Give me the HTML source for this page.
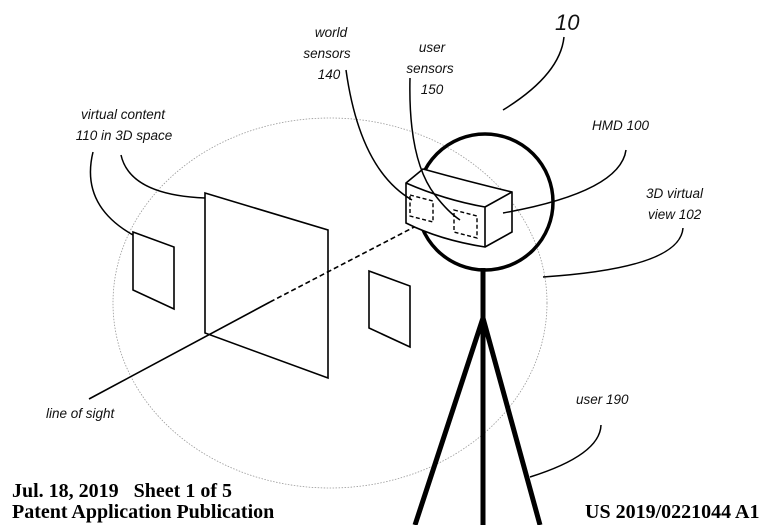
<!DOCTYPE html>
<html><head><style>
html,body{margin:0;padding:0;background:#fff;}
svg{display:block;}
.l{font-family:"Liberation Sans",sans-serif;font-style:italic;font-size:13.5px;fill:#111;}
.f{font-family:"Liberation Serif",serif;font-weight:bold;font-size:20px;fill:#000;white-space:pre;}
</style></head><body>
<svg width="768" height="525" viewBox="0 0 768 525" xmlns="http://www.w3.org/2000/svg">
<ellipse cx="330" cy="303" rx="217" ry="185" fill="none" stroke="#999" stroke-width="0.8" stroke-dasharray="1.5,1.5"/>
<g fill="none" stroke="#000" stroke-width="1.6">
<polygon points="133,232 174,247 174,309 133,290"/>
<polygon points="369,271 410,286 410,347 369,328"/>
<polygon points="205,193 328,230 328,378 205,333"/>
<line x1="89" y1="399" x2="270" y2="302"/>
<line x1="270" y1="302" x2="418" y2="225" stroke-dasharray="5,3"/>
</g>
<circle cx="485" cy="202" r="68" fill="none" stroke="#000" stroke-width="3.5"/>
<g stroke="#000" fill="none" stroke-width="5">
<line x1="483" y1="268" x2="483" y2="525"/>
<line x1="483" y1="318" x2="415" y2="525"/>
<line x1="483" y1="318" x2="540" y2="525"/>
</g>
<g fill="#fff" stroke="#000" stroke-width="1.6">
<path d="M406,183 L423,169 Q470,182 512,192 L512,232 L485,247 Q440,240 406,223 Z"/>
<path d="M406,183 Q445,200 485,207 L512,192 M485,207 L485,247" fill="none"/>
</g>
<g fill="none" stroke="#000" stroke-width="1.4" stroke-dasharray="4,2.5">
<polygon points="410,195 433,201 433,222 410,216"/>
<polygon points="454,210 477,216 477,238 454,232"/>
</g>
<g fill="none" stroke="#000" stroke-width="1.5">
<path d="M564,37 Q560,75 503,110"/>
<path d="M626,150 Q620,192 503,213"/>
<path d="M683,228 Q680,268 543,277"/>
<path d="M601,425 Q600,455 530,477"/>
<path d="M346,70 Q360,170 412,200"/>
<path d="M410,78 Q408,160 435,195 Q448,212 460,220"/>
<path d="M93,152 Q80,205 133,235"/>
<path d="M121,155 Q130,195 205,198"/>
</g>
<text class="l" x="331" y="37" text-anchor="middle">world</text>
<text class="l" x="327" y="58" text-anchor="middle">sensors</text>
<text class="l" x="329" y="79" text-anchor="middle">140</text>
<text class="l" x="432" y="52" text-anchor="middle">user</text>
<text class="l" x="430" y="73" text-anchor="middle">sensors</text>
<text class="l" x="432" y="94" text-anchor="middle">150</text>
<text class="l" x="123" y="119" text-anchor="middle">virtual content</text>
<text class="l" x="124" y="140" text-anchor="middle">110 in 3D space</text>
<text class="l" x="555" y="30" style="font-size:22px">10</text>
<text class="l" x="592" y="130">HMD 100</text>
<text class="l" x="646" y="198">3D virtual</text>
<text class="l" x="648" y="219">view 102</text>
<text class="l" x="576" y="404">user 190</text>
<text class="l" x="46" y="418">line of sight</text>
<text class="f" x="12" y="497" xml:space="preserve">Jul. 18, 2019   Sheet 1 of 5</text>
<text class="f" x="12" y="518">Patent Application Publication</text>
<text class="f" x="585" y="518">US 2019/0221044 A1</text>
</svg>
</body></html>
